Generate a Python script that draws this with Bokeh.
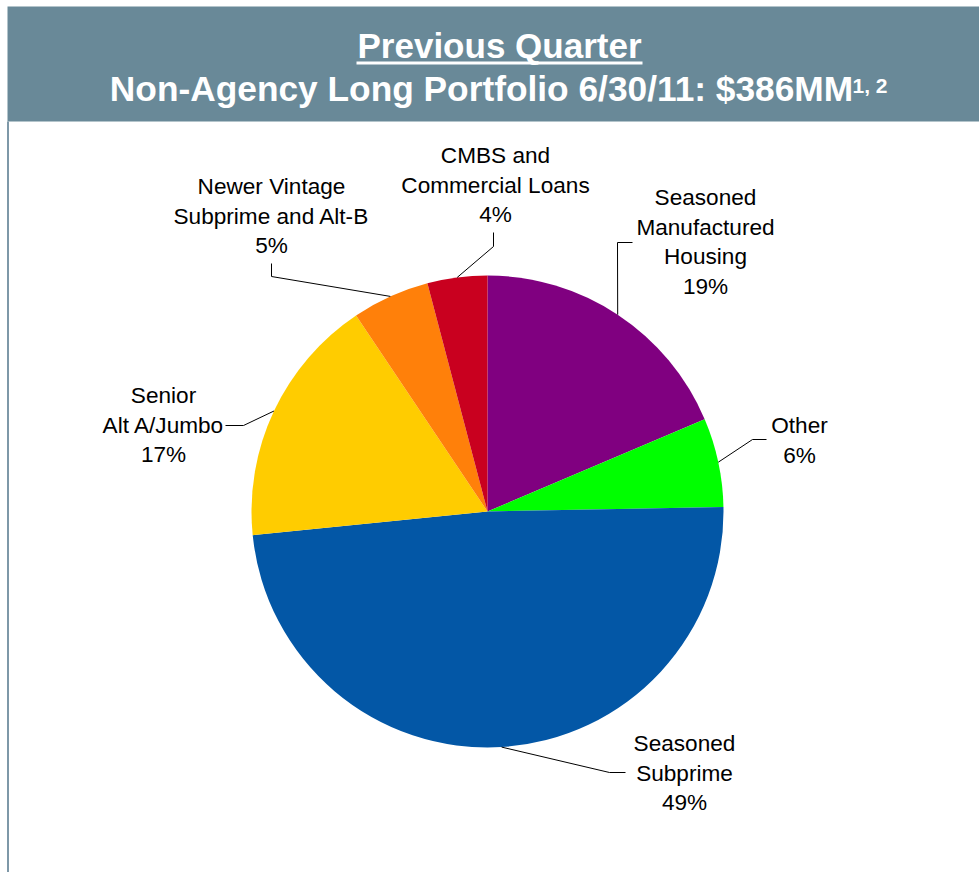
import math
from bokeh.plotting import figure
from bokeh.models import Range1d, ColumnDataSource
from bokeh.core.properties import value
from bokeh.embed import file_html
from bokeh.resources import INLINE

# ---- data ----
categories = ["Seasoned\nManufactured\nHousing", "Other", "Seasoned\nSubprime",
              "Senior\nAlt A/Jumbo", "Newer Vintage\nSubprime and Alt-B",
              "CMBS and\nCommercial Loans"]
shares = [18.6, 6.1, 48.7, 17.2, 5.3, 4.1]
colors = ["#800080", "#00FF00", "#0357A6", "#FFCC00", "#FF800A", "#C9001F"]

title1 = "Previous Quarter"
title2 = "Non-Agency Long Portfolio 6/30/11: $386MM"
title_sup = "1, 2"

# ---- layout (page pixel coordinates) ----
W, H = 979, 872
CX, CY, R = 487, 511, 236
label_pos = [(705, 197), (799, 425), (684, 743), (163, 395), (271, 186), (495, 155)]
leader_pts = [[(632, 242), (617, 242)], [(766, 439), (752, 439)], [(625, 772), (609, 772)],
              [(225, 425), (243, 425)], [(271, 263), (271, 276)], [(493, 232), (493, 246)]]
LINE_H = 29.5
FONT = "Liberation Sans"

p = figure(width=W, height=H, output_backend="svg", toolbar_location=None,
           x_range=Range1d(0, W), y_range=Range1d(H, 0),
           min_border=0, outline_line_color=None)
p.axis.visible = False
p.grid.visible = False
p.background_fill_color = "white"
p.border_fill_color = "white"

# header band
p.quad(left=[7], right=[W], top=[6], bottom=[121], fill_color="#698998", line_color=None)
# left border
p.segment(x0=[7.5], y0=[121], x1=[7.5], y1=[H], line_color="#7E98A8", line_width=2)

# title
p.text(x=[499], y=[45], text=[title1], text_font=value(FONT), text_font_style="bold",
       text_font_size="35px", text_color="white", text_align="center", text_baseline="middle")
p.segment(x0=[356], y0=[62.5], x1=[642], y1=[62.5], line_color="white", line_width=3)
p.text(x=[481], y=[88], text=[title2], text_font=value(FONT), text_font_style="bold",
       text_font_size="35.3px", text_color="white", text_align="center", text_baseline="middle")
p.text(x=[852], y=[85], text=[title_sup], text_font=value(FONT), text_font_style="bold",
       text_font_size="21px", text_color="white", text_align="left", text_baseline="middle")

# pie
total = sum(shares)
starts, ends, mids = [], [], []
cum = 0.0
for v in shares:
    a0 = cum / total * 2 * math.pi
    cum += v
    a1 = cum / total * 2 * math.pi
    starts.append(math.pi / 2 - a0)
    ends.append(math.pi / 2 - a1)
    mids.append((a0 + a1) / 2)

src = ColumnDataSource(dict(start=starts, end=ends, color=colors))
p.wedge(x=CX, y=CY, radius=R, start_angle="start", end_angle="end", direction="clock",
        fill_color="color", line_color=None, source=src)

# leader lines
xs, ys = [], []
for pts, m in zip(leader_pts, mids):
    ex = CX + R * math.sin(m)
    ey = CY - R * math.cos(m)
    xs.append([pts[0][0], pts[1][0], ex])
    ys.append([pts[0][1], pts[1][1], ey])
p.multi_line(xs=xs, ys=ys, line_color="black", line_width=1)

# labels
lx, ly, lt = [], [], []
for cat, v, (x, y) in zip(categories, shares, label_pos):
    lines = cat.split("\n") + [f"{round(v)}%"]
    for i, t in enumerate(lines):
        lx.append(x)
        ly.append(y + i * LINE_H)
        lt.append(t)
p.text(x=lx, y=ly, text=lt, text_font=value(FONT), text_font_size="22.6px",
       text_color="black", text_align="center", text_baseline="middle")

open("out.html", "w").write(file_html(p, INLINE))
